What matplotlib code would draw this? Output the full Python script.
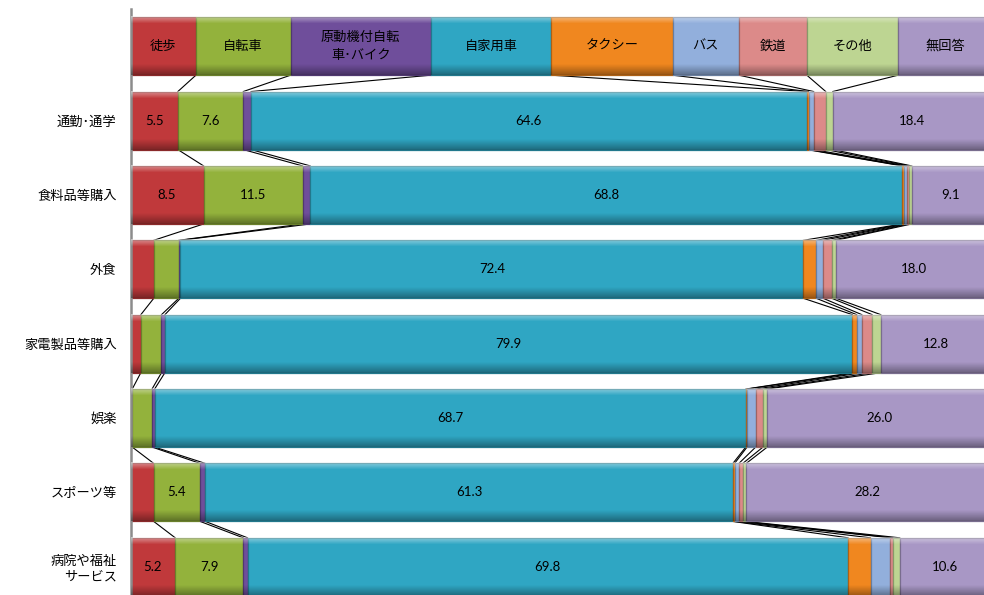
import numpy as np
import matplotlib
matplotlib.use("Agg")
import matplotlib.pyplot as plt
from matplotlib import colors as mcolors

plt.rcParams['font.family'] = ['Noto Sans CJK JP', 'DejaVu Sans']

modes = ["徒歩", "自転車", "原動機付自転\n車･バイク", "自家用車", "タクシー", "バス", "鉄道", "その他", "無回答"]
mode_colors = ["#c0393b", "#93b23c", "#6f4e9b", "#2fa6c3", "#f0871f", "#92afdc", "#dc8a89", "#bdd592", "#a897c5"]
# widths of the header boxes that carry the mode names
header_widths = [7.6, 11.0, 16.3, 14.0, 14.1, 7.7, 7.9, 10.6, 10.9]

purposes = ["通勤･通学", "食料品等購入", "外食", "家電製品等購入", "娯楽", "スポーツ等", "病院や福祉\nサービス"]
walk    = [5.5, 8.5, 2.7, 1.2, 0.2, 2.7, 5.2]
bicycle = [7.6, 11.5, 2.9, 2.4, 2.3, 5.4, 7.9]
moped   = [0.9, 0.9, 0.2, 0.4, 0.3, 0.6, 0.5]
car     = [64.6, 68.8, 72.4, 79.9, 68.7, 61.3, 69.8]
taxi    = [0.2, 0.15, 1.5, 0.5, 0.15, 0.2, 2.6]
bus     = [0.6, 0.35, 0.8, 0.6, 1.0, 0.5, 2.3]
rail    = [1.4, 0.3, 1.0, 1.2, 0.85, 0.45, 0.3]
other   = [0.8, 0.3, 0.5, 1.0, 0.5, 0.4, 0.8]
no_ans  = [18.4, 9.1, 18.0, 12.8, 26.0, 28.2, 10.6]

series = [walk, bicycle, moped, car, taxi, bus, rail, other, no_ans]
data = np.column_stack(series)
rows = np.vstack([header_widths, data])   # row 0 = header boxes
n_rows = rows.shape[0]
h = 0.78

fig = plt.figure(figsize=(9.84, 5.95), dpi=100)
ax = fig.add_axes([130.5 / 984, 1 - 604 / 595, 860.5 / 984, 595 / 595])

def darker(c, f=0.72):
    r, g, b = mcolors.to_rgb(c)
    return (r * f, g * f, b * f)

# stacked segments
lefts = np.zeros(n_rows)
for k, col in enumerate(mode_colors):
    w = rows[:, k]
    ax.barh(np.arange(n_rows), w, left=lefts, height=h, color=col,
            edgecolor=darker(col), linewidth=0.9, zorder=2)
    lefts = lefts + w
cum = np.cumsum(rows, axis=1)

# bevel shading over each bar: light top band, darker bottom
prof = np.linspace(0, 1, 60)
shade = np.zeros((60, 1, 4))
top = np.clip(1 - prof / 0.12, 0, 1)
bot = np.clip((prof - 0.82) / 0.18, 0, 1)
shade[:, 0, :3] = np.where(top[:, None] > 0, 1.0, 0.0)
shade[:, 0, 3] = top * 0.45 + bot * 0.35
for i in range(n_rows):
    ax.imshow(shade, extent=(0, cum[i, -1], i + h / 2, i - h / 2),
              aspect='auto', interpolation='bilinear', zorder=3)
ax.set_xlim(0, 100)
ax.set_ylim(n_rows - 0.5, -0.5)

# series lines between neighbouring bars
for i in range(n_rows - 1):
    for k in range(cum.shape[1]):
        ax.plot([cum[i, k], cum[i + 1, k]], [i + h / 2, i + 1 - h / 2],
                color="black", lw=0.8, zorder=1)

# header box captions
starts = cum[0] - rows[0]
for k, name in enumerate(modes):
    ax.text(starts[k] + rows[0, k] / 2, 0, name, ha='center', va='center',
            fontsize=9.5, color="black", zorder=4, linespacing=1.5)

# value labels
for i in range(1, n_rows):
    st = cum[i] - rows[i]
    for k in range(rows.shape[1]):
        v = rows[i, k]
        if v >= 5:
            ax.text(st[k] + v / 2, i, f"{v:.1f}", ha='center', va='center',
                    fontsize=9.5, family=['Lato', 'DejaVu Sans'], zorder=4)

ax.set_yticks(np.arange(n_rows))
ax.set_yticklabels([""] + purposes, fontsize=9.5)
ax.tick_params(axis='y', length=0, pad=10)
ax.set_xticks([])
for s in ["top", "right", "bottom"]:
    ax.spines[s].set_visible(False)
ax.spines["left"].set_color("#8c8c8c")
ax.spines["left"].set_linewidth(1.8)

fig.savefig("out.png", dpi=100)
